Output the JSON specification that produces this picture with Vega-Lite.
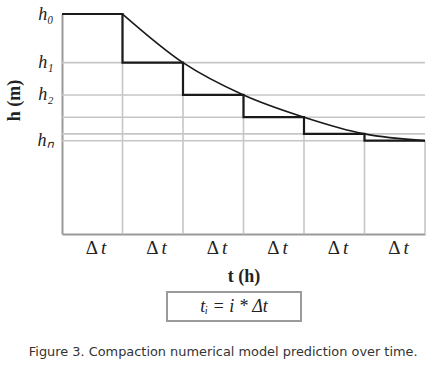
{
  "$schema": "https://vega.github.io/schema/vega-lite/v6.json",
  "padding": {"left": 5, "top": 5, "right": 5, "bottom": 5},
  "background": "white",
  "bounds": "flush",
  "spacing": 58,
  "config": {"view": {"stroke": null}, "font": "Liberation Serif"},
  "title": {
    "text": "Figure 3. Compaction numerical model prediction over time.",
    "orient": "bottom",
    "font": "DejaVu Sans",
    "fontSize": 12.9,
    "fontWeight": "normal",
    "color": "#333",
    "offset": 24,
    "dx": 6,
    "anchor": "middle"
  },
  "datasets": {
    "curve": [
      {"t": 1, "h": 10},
      {"t": 2, "h": 7.79},
      {"t": 3, "h": 6.32},
      {"t": 4, "h": 5.31},
      {"t": 5, "h": 4.55},
      {"t": 6, "h": 4.24}
    ],
    "step": [
      {"t": 0, "h": 10},
      {"t": 1, "h": 7.79},
      {"t": 2, "h": 6.32},
      {"t": 3, "h": 5.31},
      {"t": 4, "h": 4.55},
      {"t": 5, "h": 4.24},
      {"t": 6, "h": 4.24}
    ]
  },
  "vconcat": [
    {
      "width": 363,
      "height": 220,
      "layer": [
        {
          "data": {"name": "curve"},
          "mark": {"type": "rule", "color": "#c6c6c6", "strokeWidth": 1.6},
          "encoding": {
            "x": {
              "field": "t", "type": "quantitative",
              "scale": {"domain": [0, 6], "nice": false, "zero": false},
              "axis": {
                "orient": "bottom", "offset": 0,
                "values": [0.5, 1.5, 2.5, 3.5, 4.5, 5.5],
                "labelExpr": "'Δ'",
                "ticks": false, "grid": false,
                "domainColor": "#9a9a9a", "domainWidth": 2,
                "labelFont": "Liberation Serif", "labelFontSize": 19, "labelColor": "#222",
                "labelPadding": 4, "labelOffset": -1, "labelFlush": false, "labelOverlap": false,
                "title": "t  (h)", "titleFont": "Liberation Serif", "titleFontSize": 18,
                "titleFontWeight": "bold", "titleColor": "#222", "titlePadding": 10
              }
            },
            "y": {
              "field": "h", "type": "quantitative",
              "scale": {"domain": [0, 10], "nice": false},
              "axis": {
                "values": [10, 7.79, 6.32, 4.24],
                "labelExpr": "datum.value == 10 ? 'h₀' : datum.value == 7.79 ? 'h₁' : datum.value == 6.32 ? 'h₂' : 'hₙ'",
                "ticks": false, "grid": false,
                "domainColor": "#9a9a9a", "domainWidth": 2,
                "labelFont": "Liberation Serif", "labelFontStyle": "italic", "labelFontSize": 18,
                "labelColor": "#222", "labelPadding": 9, "labelFlush": false, "labelOverlap": false,
                "title": "h (m)", "titleFont": "Liberation Serif", "titleFontSize": 18,
                "titleFontWeight": "bold", "titleColor": "#222", "titleY": 86, "titlePadding": 14
              }
            },
            "y2": {"datum": 0}
          }
        },
        {
          "data": {"name": "step"},
          "transform": [{"filter": "datum.t >= 1 && datum.t <= 5"}],
          "mark": {"type": "rule", "color": "#c6c6c6", "strokeWidth": 1.6},
          "encoding": {
            "y": {"field": "h", "type": "quantitative"},
            "x": {"datum": 0, "axis": null},
            "x2": {"datum": 6}
          }
        },
        {
          "data": {"name": "step"},
          "mark": {"type": "line", "interpolate": "step-after", "color": "#1a1a1a", "strokeWidth": 2.2},
          "encoding": {
            "x": {"field": "t", "type": "quantitative", "axis": null},
            "y": {"field": "h", "type": "quantitative"}
          }
        },
        {
          "data": {"name": "curve"},
          "mark": {"type": "line", "interpolate": "monotone", "color": "#1a1a1a", "strokeWidth": 1.6},
          "encoding": {
            "x": {
              "field": "t", "type": "quantitative",
              "axis": {
                "orient": "bottom", "offset": 0,
                "values": [0.5, 1.5, 2.5, 3.5, 4.5, 5.5],
                "labelExpr": "'t'",
                "ticks": false, "grid": false, "domain": false,
                "labelFont": "Liberation Serif", "labelFontStyle": "italic", "labelFontSize": 19, "labelColor": "#222",
                "labelPadding": 4, "labelOffset": 11, "labelFlush": false, "labelOverlap": false,
                "title": null
              }
            },
            "y": {"field": "h", "type": "quantitative"}
          }
        }
      ],
      "resolve": {"axis": {"x": "independent"}}
    },
    {
      "hconcat": [
        {
          "width": 105,
          "height": 29,
          "data": {"values": [{"blank": ""}]},
          "mark": {"type": "text"},
          "encoding": {"text": {"field": "blank"}}
        },
        {
          "width": 134,
          "height": 29,
          "view": {"stroke": "#9a9a9a", "strokeWidth": 2},
          "data": {"values": [{"formula": "tᵢ = i * Δt"}]},
          "mark": {"type": "text", "font": "Liberation Serif", "fontSize": 18, "fontStyle": "italic", "color": "#222"},
          "encoding": {"text": {"field": "formula"}}
        }
      ],
      "spacing": 0,
      "bounds": "flush"
    }
  ]
}
